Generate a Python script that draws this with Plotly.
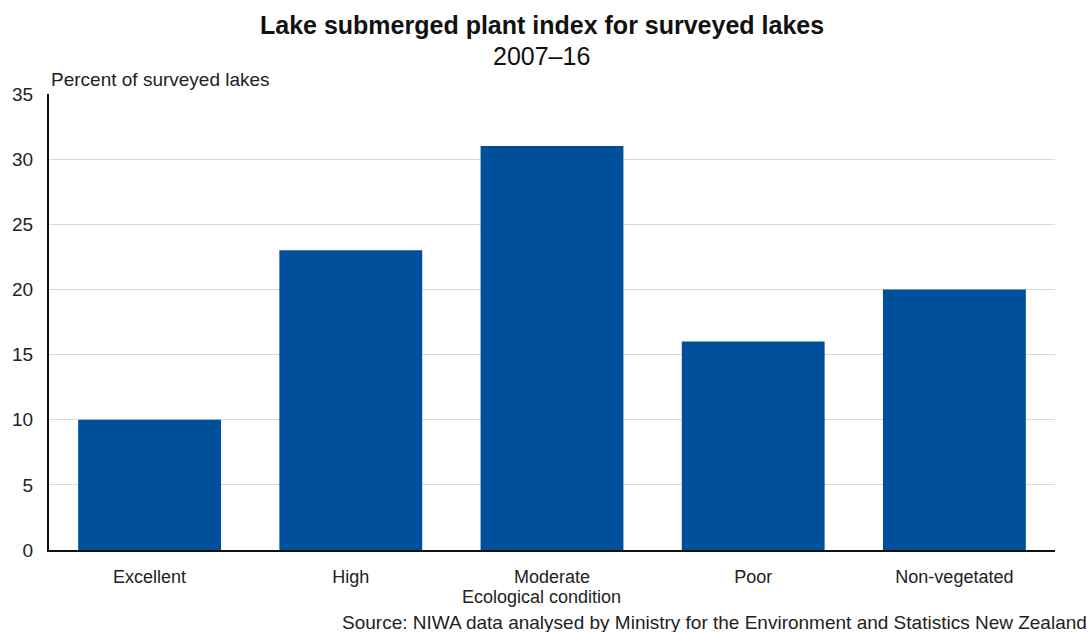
import plotly.graph_objects as go

# Share of surveyed lakes in each ecological condition class
categories = ["Excellent", "High", "Moderate", "Poor", "Non-vegetated"]
percent_of_lakes = [10, 23, 31, 16, 20]
y_ticks = [0, 5, 10, 15, 20, 25, 30, 35]

FONT = "Liberation Sans, Arial, sans-serif"
BAR_COLOR = "#004f9b"
TEXT = "#222222"

fig = go.Figure(
    go.Bar(
        x=categories,
        y=percent_of_lakes,
        marker=dict(color=BAR_COLOR, line=dict(width=0)),
        width=0.71,
        hoverinfo="x+y",
    )
)

fig.update_layout(
    width=1091,
    height=632,
    margin=dict(l=45, r=36, t=94, b=82),
    paper_bgcolor="white",
    plot_bgcolor="white",
    font=dict(family=FONT, size=18, color=TEXT),
    showlegend=False,
    bargap=0.29,
)

fig.update_yaxes(
    range=[0, 35],
    tickvals=y_ticks,
    showgrid=True,
    gridcolor="#d9d9d9",
    gridwidth=1,
    zeroline=False,
    showline=True,
    linecolor="#111111",
    linewidth=2,
    ticks="outside",
    ticklen=10,
    tickcolor="rgba(0,0,0,0)",
    tickfont=dict(family=FONT, size=19, color=TEXT),
)

fig.update_xaxes(
    showline=True,
    linecolor="#111111",
    linewidth=2,
    ticks="outside",
    ticklen=9,
    tickcolor="rgba(0,0,0,0)",
    tickfont=dict(family=FONT, size=18, color=TEXT),
)


def note(text, x, yshift, size=18, xanchor="center", bold=False, color=TEXT):
    fig.add_annotation(
        text=f"<b>{text}</b>" if bold else text,
        xref="paper", yref="paper",
        x=x, y=1 if yshift > 0 else 0, yshift=yshift,
        xanchor=xanchor, yanchor="middle",
        showarrow=False,
        font=dict(family=FONT, size=size, color=color),
    )


# Titles above the plot area
note("Lake submerged plant index for surveyed lakes", 0.49, 69, size=25,
     bold=True, color="#111111")
note("2007\u201316", 0.49, 38, size=25, color="#111111")
note("Percent of surveyed lakes", 0.0, 15, size=19, xanchor="left")

# Axis title and source line below the plot area
note("Ecological condition", 0.4896, -47, size=18)
fig.add_annotation(
    text="Source: NIWA data analysed by Ministry for the Environment and Statistics New Zealand",
    xref="paper", yref="paper",
    x=1.0, xshift=34, y=0, yshift=-72,
    xanchor="right", yanchor="middle",
    showarrow=False,
    font=dict(family=FONT, size=19, color=TEXT),
)

fig.write_html("out.html")
